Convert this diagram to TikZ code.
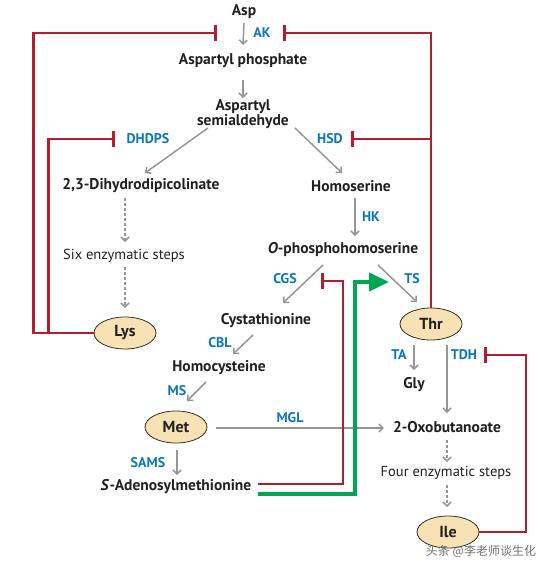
\documentclass[tikz,border=0pt]{standalone}
\usepackage{fontspec}
\setmainfont{PT Sans}
\newfontfamily\cjk{Noto Sans CJK SC}
\usetikzlibrary{arrows.meta,shapes.geometric,calc}
\definecolor{ink}{RGB}{35,31,32}
\definecolor{enz}{RGB}{10,118,190}
\definecolor{arr}{RGB}{150,150,150}
\definecolor{inh}{RGB}{178,30,45}
\definecolor{grn}{RGB}{0,166,81}
\definecolor{tanfill}{RGB}{246,226,180}
\definecolor{tanline}{RGB}{60,45,30}
\begin{document}
\begin{tikzpicture}[x=1pt,y=-1pt,
 met/.style={font=\bfseries\fontsize{15.5}{15}\selectfont, text=ink, inner sep=1pt},
 stepn/.style={font=\fontsize{14.5}{15}\selectfont, text=ink, inner sep=1pt},
 enzy/.style={font=\bfseries\fontsize{14}{15}\selectfont, text=enz, inner sep=0},
 amino/.style={ellipse, draw=tanline, line width=0.8pt, fill=tanfill, minimum width=62pt, minimum height=32pt, inner sep=0, font=\bfseries\fontsize{16}{16}\selectfont, text=ink},
 conv/.style={draw=arr, line width=1.5pt, -{Straight Barb[length=4pt,width=8pt,line width=1.5pt]}},
 dconv/.style={conv, dash pattern=on 3pt off 2pt},
 inhib/.style={draw=inh, line width=2.4pt, -{Bar[width=16pt,line width=3.2pt]}},
 activ/.style={draw=grn, line width=4pt, -{Triangle[length=20pt,width=18pt]}},
]
\useasboundingbox (0,0) rectangle (558,568);
% metabolites
\node[met] (asp) at (244,12) {Asp};
\node[met] (ap) at (243,61) {Aspartyl phosphate};
\node[met, align=center] (as) at (243,114) {Aspartyl\\semialdehyde};
\node[met] (dhdp) at (141,186) {2,3-Dihydrodipicolinate};
\node[stepn] (six) at (124,256) {Six enzymatic steps};
\node[amino] (lys) at (125,333) {Lys};
\node[met] (hser) at (351,186) {Homoserine};
\node[met] (oph) at (343,250) {\textit{O}-phosphohomoserine};
\node[amino] (thr) at (431,324) {Thr};
\node[met] (cys) at (266,321) {Cystathionine};
\node[met] (hcys) at (219,368) {Homocysteine};
\node[amino] (met) at (176,427) {Met};
\node[met] (sam) at (176,487) {\textit{S}-Adenosylmethionine};
\node[met] (gly) at (414,385) {Gly};
\node[met] (oxo) at (447,427) {2-Oxobutanoate};
\node[stepn] (four) at (446,473) {Four enzymatic steps};
\node[amino] (ile) at (448,532) {Ile};
% enzymes
\node[enzy] (ak) at (262,33) {AK};
\node[enzy] (dhdps) at (148,139) {DHDPS};
\node[enzy] (hsd) at (330,139) {HSD};
\node[enzy] (hk) at (371,217) {HK};
\node[enzy] (cgs) at (285,279) {CGS};
\node[enzy] (ts) at (412,279) {TS};
\node[enzy] (cbl) at (220,343) {CBL};
\node[enzy] (ms) at (177,391) {MS};
\node[enzy] (mgl) at (290,418) {MGL};
\node[enzy] (sams) at (148,463) {SAMS};
\node[enzy] (ta) at (399,355) {TA};
\node[enzy] (tdh) at (464,355) {TDH};
% conversions
\draw[conv] ($(asp)+(0,11)$) -- ($(ap)+(0,-16)$);
\draw[conv] ($(ap)+(0,19)$) -- ($(as)+(0,-16)$);
\draw[conv] ($(as)+(-35,14)$) -- ($(dhdp)+(4,-13)$);
\draw[conv] ($(as)+(52,14)$) -- ($(hser)+(-9,-13)$);
\draw[conv] ($(hser)+(4,12)$) -- ($(oph)+(12,-14)$);
\draw[conv] ($(oph)+(-20,15)$) -- ($(cys)+(17,-18)$);
\draw[conv] ($(oph)+(35,15)$) -- ($(thr)+(-14,-22)$);
\draw[conv] ($(cys)+(-13,14)$) -- ($(hcys)+(14,-14)$);
\draw[conv] ($(hcys)+(-13,14)$) -- ($(met)+(11,-26)$);
\draw[conv] ($(met.east)+(9,1)$) -- ($(oxo.west)+(-8,1)$);
\draw[conv] ($(met)+(1,23)$) -- ($(sam)+(1,-12)$);
\draw[conv] ($(thr)+(-17,21)$) -- ($(gly)+(0,-15)$);
\draw[conv] ($(thr)+(16,21)$) -- ($(oxo)+(0,-14)$);
\draw[dconv] ($(dhdp)+(-16,12)$) -- ($(six)+(1,-14)$);
\draw[dconv] ($(six)+(1,11)$) -- ($(lys)+(0,-25)$);
\draw[dconv] ($(oxo)+(0,13)$) -- ($(four)+(1,-11)$);
\draw[dconv] ($(four)+(1,12)$) -- ($(ile)+(-1,-25)$);
% inhibition
\coordinate (akL) at (217,33);
\coordinate (akR) at (283,33);
\coordinate (dhdpsbar) at (115,139);
\coordinate (hsdbar) at (351,139);
\coordinate (cgsbar) at (321,281);
\coordinate (tdhbar) at (484,355);
\coordinate (tsarrow) at (389,282);
\draw[inhib] (lys.west) -- ++(-60,0) |- (akL);
\draw[inhib] ($(lys.west)+(-45,0)$) |- (dhdpsbar);
\draw[inhib] (thr.north) |- (akR);
\draw[inhib] (thr.north |- hsdbar) -- (hsdbar);
\draw[inhib] ($(sam.east)+(6,-3)$) -| ($(cgsbar)+(22,0)$) -- (cgsbar);
\draw[inhib] (ile.east) -| ($(tdhbar)+(42,0)$) -- (tdhbar);
\draw[activ] ($(sam.east)+(6,7)$) -| ($(tsarrow)+(-34,0)$) -- (tsarrow);
% watermark
\node[font=\cjk\fontsize{12}{12}\selectfont, text=black!55, anchor=north] (wm) at (481,542) {头条 @李老师谈生化};
\end{tikzpicture}
\end{document}
